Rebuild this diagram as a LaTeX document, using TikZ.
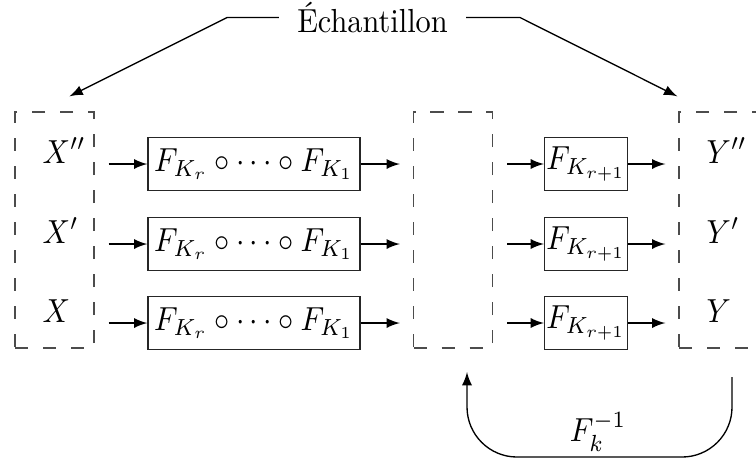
\documentclass[tikz,border=0pt]{standalone}
\usepackage{fontspec}
\usepackage{graphicx}
\usetikzlibrary{arrows}
\newcommand\hsq[1]{\scalebox{0.91}[1]{#1}}
\begin{document}
\begin{tikzpicture}[x=0.3pt,y=-0.3pt,
  dbox/.style={draw=black!70,dash pattern=on 4pt off 4.4pt,minimum width=23.7pt,minimum height=70.8pt,inner sep=0},
  bigbox/.style={draw=black!85,minimum width=63.6pt,minimum height=15.9pt,inner sep=1pt},
  smallbox/.style={draw=black!85,minimum width=24pt,minimum height=15.9pt,inner sep=0.5pt},
  lab/.style={anchor=base west,inner sep=0},
  arr/.style={-latex}]
\useasboundingbox (0,0) rectangle (756,458);
% dashed groups
\node[dbox] (L) at (54.5,230) {};
\node[dbox] (M) at (453,230) {};
\node[dbox] (R) at (718.5,230) {};
% labels
\node[lab] (x2) at (42,163) {\hsq{$X''$}};
\node[lab] (x1) at (42,243) {\hsq{$X'$}};
\node[lab] (x0) at (42,322) {\hsq{$X$}};
\node[lab] (y2) at (706,163) {\hsq{$Y''$}};
\node[lab] (y1) at (706,243) {\hsq{$Y'$}};
\node[lab] (y0) at (706,322) {\hsq{$Y$}};
% boxes
\node[bigbox] (b1) at (254,164) {\hsq{$F_{K_r}\circ\cdots\circ F_{K_1}$}};
\node[bigbox] (b2) at (254,244) {\hsq{$F_{K_r}\circ\cdots\circ F_{K_1}$}};
\node[bigbox] (b3) at (254,323) {\hsq{$F_{K_r}\circ\cdots\circ F_{K_1}$}};
\node[smallbox] (s1) at (586,164) {\hsq{$F_{K_{r+1}}$}};
\node[smallbox] (s2) at (586,244) {\hsq{$F_{K_{r+1}}$}};
\node[smallbox] (s3) at (586,323) {\hsq{$F_{K_{r+1}}$}};
% arrows
\foreach \b/\s in {b1/s1,b2/s2,b3/s3}{
  \draw[arr] ([xshift=4.2pt]L.east |- \b.west) -- (\b.west);
  \draw[arr] (\b.east) -- ([xshift=-3.9pt]M.west |- \b.east);
  \draw[arr] ([xshift=4.2pt]M.east |- \s.west) -- (\s.west);
  \draw[arr] (\s.east) -- ([xshift=-3.9pt]R.west |- \s.east);
}
% sample
\node (E) at (372.5,17.5) {\hsq{Échantillon}};
\draw[arr] ([xshift=-2pt]E.west) -- (227,17.5) -- ([shift={(4.5pt,4.5pt)}]L.north);
\draw[arr] ([xshift=2pt]E.east) -- (520,17.5) -- ([shift={(-0.3pt,4.5pt)}]R.north west);
% inverse
\coordinate (c1) at (732,377);
\coordinate (c2) at (467,372);
\draw[arr,rounded corners=15pt] (c1) -- (732,457) -| (c2);
\node (fk) at (598,432) {\hsq{$F_k^{-1}$}};
\end{tikzpicture}
\end{document}
